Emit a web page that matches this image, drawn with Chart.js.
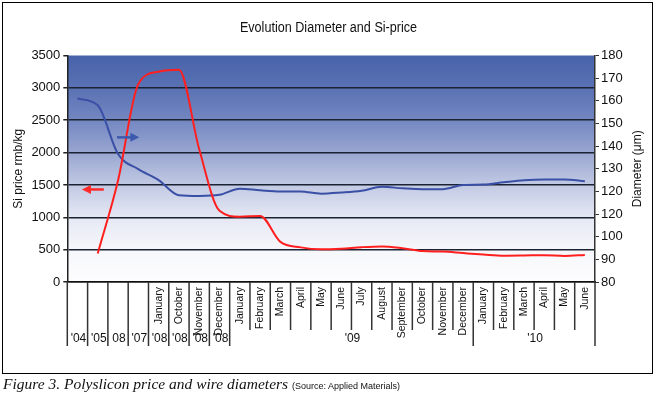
<!DOCTYPE html>
<html lang="en">
<head>
<meta charset="UTF-8">
<title>Evolution Diameter and Si-price</title>
<script src="https://cdn.jsdelivr.net/npm/chart.js"></script>
<style>
  body { margin: 0; background: #fff; }
  #wrap { position: relative; width: 657px; height: 397px; }
  #frame { position: absolute; left: 2px; top: 2px; width: 651px; height: 372px; box-sizing: border-box;
           border: 1.5px solid #000; pointer-events: none; }
  #title { position: absolute; left: 0; top: 19px; width: 657px; text-align: center; color: #111;
           font: 14px 'Liberation Sans Narrow', 'Liberation Sans', sans-serif; transform: scaleX(0.9); }
  #caption { position: absolute; left: 3px; top: 375px; white-space: nowrap; color: #111;
             font: italic 15.5px 'Liberation Serif', 'Times New Roman', serif; }
  #caption span { font: normal 9px 'Liberation Sans', Arial, sans-serif; }
  canvas { position: absolute; left: 0; top: 0; }
</style>
</head>
<body>
<div id="wrap">
  <canvas id="chart" width="657" height="397"></canvas>
  <div id="frame"></div>
  <div id="title">Evolution Diameter and Si-price</div>
  <div id="caption">Figure 3. Polyslicon price and wire diameters <span>(Source: Applied Materials)</span></div>
</div>
<script>
// month row (rotated) and year row under the axis
const monthLabels = ['', '', '', '', 'January', 'October', 'November', 'December',
  'January', 'February', 'March', 'April', 'May', 'June', 'July', 'August',
  'September', 'October', 'November', 'December',
  'January', 'February', 'March', 'April', 'May', 'June'];
// year label: [first category, last category, text]
const yearGroups = [[0, 0, "'04"], [1, 1, "'05"], [2, 2, "08"], [3, 3, "'07"],
  [4, 4, "'08"], [5, 5, "'08"], [6, 6, "'08"], [7, 7, "'08"], [8, 19, "'09"], [20, 25, "'10"]];

// Si price, rmb/kg (left axis)
const siPrice = [null, 440, 1570, 3060, 3250, 3280, 2050, 1100, 1010, 1020, 620, 535, 505,
  515, 538, 550, 523, 478, 470, 447, 425, 407, 410, 415, 403, 418];
// wire diameter, micron (right axis)
const diameter = [161, 158, 136.5, 129.8, 125, 118.3, 118, 118.5, 121.2, 120.5, 120, 120, 119,
  119.5, 120.3, 122, 121.4, 121, 121, 122.8, 123, 124, 124.9, 125.2, 125.2, 124.5];

const rightTickLabels = ['80', '90', '100', '120', '120', '130', '140', '150', '160', '170', '180'];

// arrows: [from index, to index, price value]
const blueArrow = [1.95, 3.05, 2235];
const redArrow = [1.3, 0.22, 1430];

const bgStops = [[0, '#4862aa'], [0.143, '#5a72b4'], [0.286, '#7387c1'], [0.429, '#99a6d1'],
  [0.571, '#c1c9e3'], [0.714, '#e5e8f4'], [0.857, '#f6f7fb'], [1, '#fdfdfe']];

const narrow = "'Liberation Sans Narrow', 'Liberation Sans', sans-serif";

function drawArrow(ctx, x1, x2, y, color) {
  const dir = Math.sign(x2 - x1);
  ctx.save();
  ctx.strokeStyle = color;
  ctx.fillStyle = color;
  ctx.lineWidth = 2.5;
  ctx.beginPath();
  ctx.moveTo(x1, y);
  ctx.lineTo(x2 - dir * 7, y);
  ctx.stroke();
  ctx.beginPath();
  ctx.moveTo(x2, y);
  ctx.lineTo(x2 - dir * 9, y - 4.5);
  ctx.lineTo(x2 - dir * 9, y + 4.5);
  ctx.closePath();
  ctx.fill();
  ctx.restore();
}

const decor = {
  id: 'decor',
  beforeDraw(chart) {
    const {ctx, chartArea: a} = chart;
    const g = ctx.createLinearGradient(0, a.top, 0, a.bottom);
    bgStops.forEach(s => g.addColorStop(s[0], s[1]));
    ctx.save();
    ctx.fillStyle = g;
    ctx.fillRect(a.left, a.top, a.right - a.left, a.bottom - a.top);
    ctx.restore();
  },
  afterDraw(chart) {
    const {ctx, chartArea: a, scales} = chart;
    const x = scales.x, y = scales.y;
    ctx.save();
    // separators under the axis
    ctx.strokeStyle = '#333';
    ctx.lineWidth = 1.5;
    for (let k = 0; k <= monthLabels.length; k++) {
      const px = x.getPixelForValue(k - 0.5);
      const long = k <= 8 || k === 20 || k === monthLabels.length;
      ctx.beginPath();
      ctx.moveTo(px, a.bottom);
      ctx.lineTo(px, a.bottom + (long ? 64 : 48));
      ctx.stroke();
    }
    // year row
    ctx.fillStyle = '#111';
    ctx.font = '12px ' + narrow;
    ctx.textAlign = 'center';
    ctx.textBaseline = 'middle';
    yearGroups.forEach(gr => {
      const cx = (x.getPixelForValue(gr[0] - 0.5) + x.getPixelForValue(gr[1] + 0.5)) / 2;
      ctx.fillText(gr[2], cx + 1, a.bottom + 57);
    });
    // axis titles, both reading bottom to top
    ctx.font = '12px ' + narrow;
    const midY = (a.top + a.bottom) / 2;
    ctx.translate(19, midY);
    ctx.rotate(-Math.PI / 2);
    ctx.fillText('Si price rmb/kg', 0, 0);
    ctx.setTransform(1, 0, 0, 1, 0, 0);
    ctx.translate(638, midY);
    ctx.rotate(-Math.PI / 2);
    ctx.fillText('Diameter (\u03bcm)', 0, 0);
    ctx.restore();
    // arrows
    drawArrow(ctx, x.getPixelForValue(blueArrow[0]), x.getPixelForValue(blueArrow[1]),
      y.getPixelForValue(blueArrow[2]), '#3d5aae');
    drawArrow(ctx, x.getPixelForValue(redArrow[0]), x.getPixelForValue(redArrow[1]),
      y.getPixelForValue(redArrow[2]), '#ff2a2a');
  }
};

new Chart(document.getElementById('chart'), {
  type: 'line',
  data: {
    labels: monthLabels,
    datasets: [{
      label: 'Si price',
      data: siPrice,
      yAxisID: 'y',
      borderColor: '#ff1f1f',
      borderWidth: 2,
      pointRadius: 0,
      cubicInterpolationMode: 'monotone'
    }, {
      label: 'Diameter',
      data: diameter,
      yAxisID: 'y1',
      borderColor: '#3a4fa6',
      borderWidth: 2,
      pointRadius: 0,
      cubicInterpolationMode: 'monotone'
    }]
  },
  options: {
    responsive: false,
    animation: false,
    layout: { padding: { top: 55.5, left: 0, right: 0, bottom: 0 } },
    plugins: { legend: { display: false }, tooltip: { enabled: false } },
    scales: {
      x: {
        offset: true,
        grid: { display: false, drawTicks: false },
        border: { color: '#111', width: 1.5 },
        ticks: { autoSkip: false, minRotation: 90, maxRotation: 90, padding: 5,
                 color: '#111', font: { family: narrow, size: 10.5 } },
        afterFit(s) { s.height = 115; }
      },
      y: {
        position: 'left',
        min: 0, max: 3500,
        ticks: { stepSize: 500, padding: 3, color: '#111', font: { family: narrow, size: 13 },
                 callback: v => String(v) },
        grid: {
          color: c => c.tick && c.tick.value === 3500 ? 'rgba(0,0,0,0)' : '#1b2233',
          lineWidth: 1.5, tickLength: 4, tickColor: '#222'
        },
        border: { color: '#222', width: 1.5 },
        afterFit(s) { s.width = 67.3; }
      },
      y1: {
        position: 'right',
        min: 80, max: 180,
        ticks: { stepSize: 10, padding: 2, color: '#111', font: { family: narrow, size: 13 },
                 callback: (v, i) => rightTickLabels[i] },
        grid: { drawOnChartArea: false, tickLength: 4, tickColor: '#333' },
        border: { color: '#333', width: 1.5 },
        afterFit(s) { s.width = 62; }
      }
    }
  },
  plugins: [decor]
});
</script>
</body>
</html>
